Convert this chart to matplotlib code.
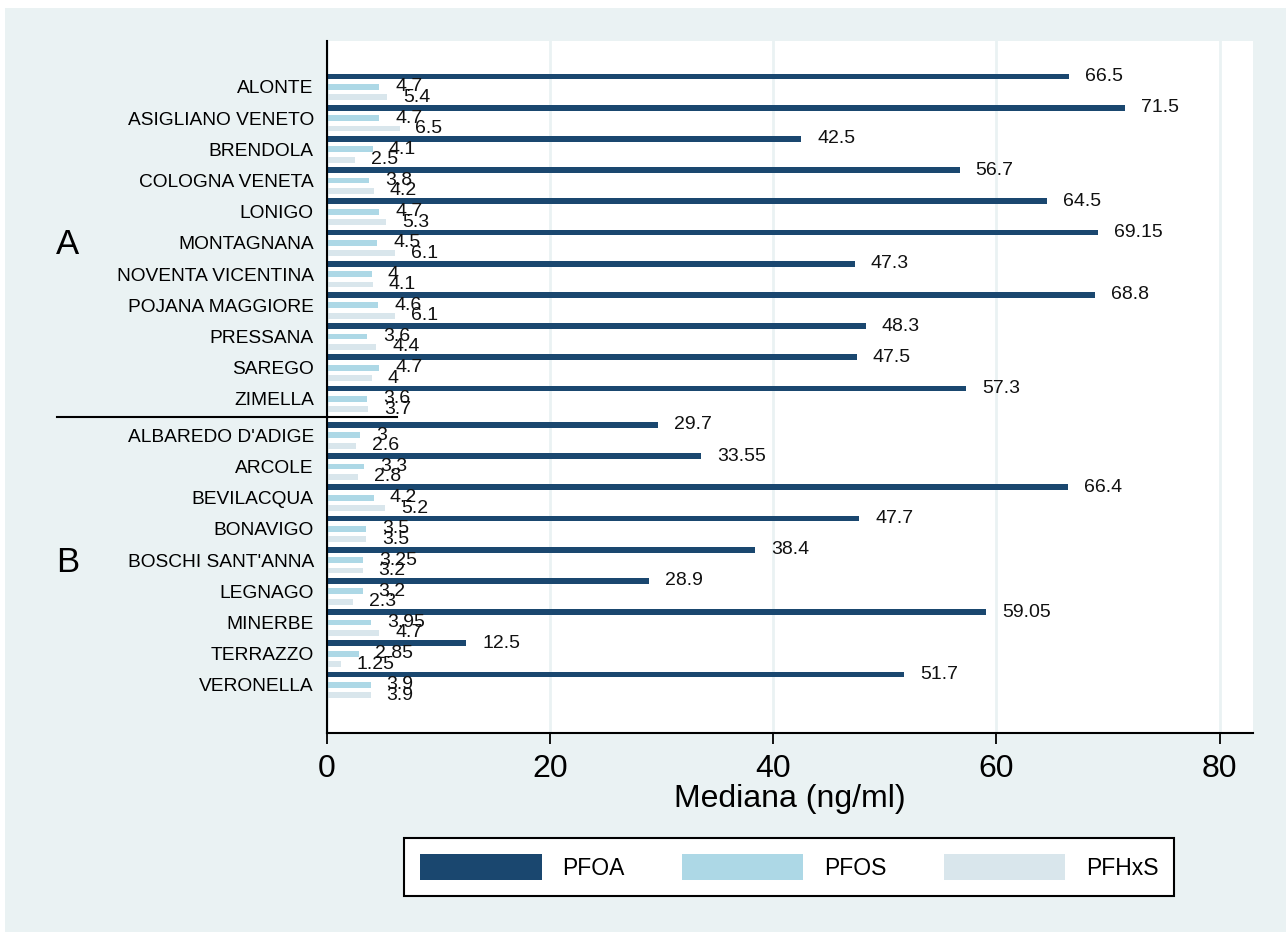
import numpy as np
import matplotlib
matplotlib.use("Agg")
import matplotlib.pyplot as plt
import matplotlib.transforms as mtransforms
from matplotlib.patches import Rectangle, Patch
from matplotlib.lines import Line2D

# data (median, ng/ml)
group_a = ["ALONTE", "ASIGLIANO VENETO", "BRENDOLA", "COLOGNA VENETA", "LONIGO",
           "MONTAGNANA", "NOVENTA VICENTINA", "POJANA MAGGIORE", "PRESSANA",
           "SAREGO", "ZIMELLA"]
pfoa_a = [66.5, 71.5, 42.5, 56.7, 64.5, 69.15, 47.3, 68.8, 48.3, 47.5, 57.3]
pfos_a = [4.7, 4.7, 4.1, 3.8, 4.7, 4.5, 4, 4.6, 3.6, 4.7, 3.6]
pfhxs_a = [5.4, 6.5, 2.5, 4.2, 5.3, 6.1, 4.1, 6.1, 4.4, 4, 3.7]

group_b = ["ALBAREDO D'ADIGE", "ARCOLE", "BEVILACQUA", "BONAVIGO",
           "BOSCHI SANT'ANNA", "LEGNAGO", "MINERBE", "TERRAZZO", "VERONELLA"]
pfoa_b = [29.7, 33.55, 66.4, 47.7, 38.4, 28.9, 59.05, 12.5, 51.7]
pfos_b = [3, 3.3, 4.2, 3.5, 3.25, 3.2, 3.95, 2.85, 3.9]
pfhxs_b = [2.6, 2.8, 5.2, 3.5, 3.2, 2.3, 4.7, 1.25, 3.9]

series = ["PFOA", "PFOS", "PFHxS"]
colors = ["#1a476f", "#add8e6", "#d9e6ec"]
bg = "#eaf2f3"

plt.rcParams['font.family'] = ['Liberation Sans', 'DejaVu Sans']

# each municipality takes 3 bar slots, group B starts after a small gap
base_a = np.arange(len(group_a)) * 3.0
base_b = 33.5 + np.arange(len(group_b)) * 3.0
bases = np.concatenate([base_a, base_b])
names = group_a + group_b
vals = [pfoa_a + pfoa_b, pfos_a + pfos_b, pfhxs_a + pfhxs_b]

W, H = 1286, 932
fig = plt.figure(figsize=(W / 100, H / 100), dpi=100, facecolor="white")
fig.patches.append(Rectangle((5 / W, 0), 1, (H - 8) / H, transform=fig.transFigure,
                             facecolor=bg, edgecolor="none", zorder=-10))

ax = fig.add_axes([327 / W, (H - 733) / H, (1253 - 327) / W, (733 - 41) / H])
ax.set_facecolor("white")

for k in range(3):
    ax.barh(bases + k, vals[k], height=0.55, color=colors[k], linewidth=0, zorder=3)
    for y, v in zip(bases + k, vals[k]):
        ax.annotate("%g" % v, (v, y), xytext=(11.5, 0), textcoords="offset points",
                    ha="left", va="center", fontsize=14, color="#111111", zorder=4)

ax.set_ylim(63.12, -3.41)
ax.set_xlim(0, 83)
ax.set_yticks(bases + 1)
ax.set_yticklabels(names, fontsize=13.8)
ax.tick_params(axis="y", length=0, pad=9.5)
ax.set_xticks([0, 20, 40, 60, 80])
ax.tick_params(axis="x", labelsize=23, length=8, width=1.3, pad=7)
ax.set_xlabel("Mediana (ng/ml)", fontsize=23, labelpad=0)

ax.grid(axis="x", color=bg, linewidth=2, zorder=0)
ax.set_axisbelow(True)
for s in ["top", "right"]:
    ax.spines[s].set_visible(False)
for s in ["left", "bottom"]:
    ax.spines[s].set_linewidth(1.5)
    ax.spines[s].set_zorder(5)

# group labels and separator line
blend = mtransforms.blended_transform_factory(fig.transFigure, ax.transData)
ax.text(68 / W, 16.2, "A", transform=blend, fontsize=25, ha="center", va="center")
ax.text(68 / W, 46.7, "B", transform=blend, fontsize=25, ha="center", va="center")
ax.add_line(Line2D([57 / W, 397 / W], [32.75, 32.75], transform=blend, color="black",
                   linewidth=1.5, clip_on=False, zorder=6))

handles = [Patch(facecolor=c, edgecolor="none") for c in colors]
leg = fig.legend(handles, series, loc="center left", bbox_to_anchor=(404 / W, 1 - 867 / H),
                 borderaxespad=0, ncol=3, fontsize=16.5, handlelength=5.3, handleheight=1.4,
                 handletextpad=0.9, columnspacing=2.5, borderpad=0.7,
                 fancybox=False, framealpha=1, edgecolor="black")
leg.get_frame().set_linewidth(1.5)

fig.savefig("out.png", dpi=100, facecolor=fig.get_facecolor())
